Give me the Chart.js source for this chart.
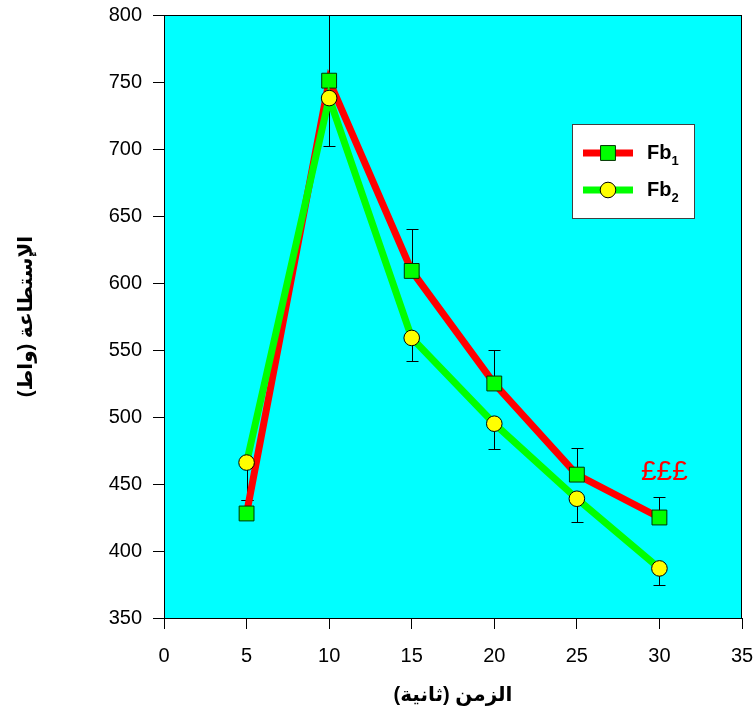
<!DOCTYPE html>
<html>
<head>
<meta charset="utf-8">
<script src="https://cdn.jsdelivr.net/npm/chart.js@4/dist/chart.umd.min.js"></script>
<style>
body{margin:0;background:#fff;}
</style>
</head>
<body>
<canvas id="myChart" width="754" height="718"></canvas>
<script>
// values
var times = [5, 10, 15, 20, 25, 30];
var fb1 = [428, 751, 609, 525, 457, 425];
var fb2 = [466, 738, 559, 495, 439, 387];
var fb1Err = [10, 50, 31, 25, 20, 15];   // drawn upwards
var fb2Err = [28, 36, 17, 19, 17, 12];   // drawn downwards
var xTicks = [0, 5, 10, 15, 20, 25, 30, 35];
var yTicks = [350, 400, 450, 500, 550, 600, 650, 700, 750, 800];
var noteText = '£££';
var notePos = [30.3, 459];
var legendNames = [['Fb', '1'], ['Fb', '2']];

var fontFam = "Arial, 'Liberation Sans', 'DejaVu Sans', sans-serif";

function pts(vals){
	var out = [];
	for(var i=0; i<vals.length; i++){
		out.push({x: times[i], y: vals[i]});
	}
	return out;
}

var bgPlugin = {
	id: 'bg',
	beforeDraw: function(chart){
		var c = chart.ctx, a = chart.chartArea;
		c.save();
		c.fillStyle = '#00ffff';
		c.fillRect(a.left, a.top, a.right - a.left, a.bottom - a.top);
		c.restore();
	},
	beforeDatasetsDraw: function(chart){
		// error bars
		var c = chart.ctx, xs = chart.scales.x, ys = chart.scales.y, a = chart.chartArea;
		c.save();
		c.beginPath();
		c.rect(a.left, a.top, a.right - a.left, a.bottom - a.top);
		c.clip();
		c.strokeStyle = '#000';
		c.lineWidth = 1;
		function bar(x, y0, y1){
			var px = Math.round(xs.getPixelForValue(x)) + 0.5;
			var p0 = ys.getPixelForValue(y0), p1 = Math.round(ys.getPixelForValue(y1)) + 0.5;
			c.beginPath();
			c.moveTo(px, p0); c.lineTo(px, p1);
			c.moveTo(px - 6, p1); c.lineTo(px + 6, p1);
			c.stroke();
		}
		for(var i=0; i<times.length; i++){
			bar(times[i], fb1[i], fb1[i] + fb1Err[i]);
			bar(times[i], fb2[i], fb2[i] - fb2Err[i]);
		}
		c.restore();
	},
	afterDraw: function(chart){
		var c = chart.ctx, a = chart.chartArea, xs = chart.scales.x, ys = chart.scales.y;
		c.save();
		// frame
		c.strokeStyle = '#000';
		c.lineWidth = 1;
		c.strokeRect(a.left + 0.5, a.top + 0.5, a.right - a.left - 1, a.bottom - a.top);
		// note
		c.fillStyle = '#ff0000';
		c.font = '28px ' + fontFam;
		c.textAlign = 'center';
		c.textBaseline = 'middle';
		c.fillText(noteText, xs.getPixelForValue(notePos[0]), ys.getPixelForValue(notePos[1]));
		// legend
		var bx = 572, by = 124, bw = 122, bh = 94;
		c.fillStyle = '#fff';
		c.fillRect(bx, by, bw, bh);
		c.strokeStyle = '#404040';
		c.strokeRect(bx + 0.5, by + 0.5, bw, bh);
		var ds = chart.data.datasets;
		var rows = [153, 190];
		for(var k=0; k<2; k++){
			var d = ds[k], ly = rows[k];
			c.strokeStyle = d.borderColor;
			c.lineWidth = 7;
			c.beginPath();
			c.moveTo(583, ly); c.lineTo(633, ly);
			c.stroke();
			c.fillStyle = d.pointBackgroundColor;
			c.strokeStyle = d.pointBorderColor;
			c.lineWidth = 1;
			c.beginPath();
			if(d.pointStyle === 'rect'){
				var h = d.pointRadius * Math.SQRT1_2;
				c.rect(608 - h, ly - h, 2*h, 2*h);
			} else {
				c.arc(608, ly, d.pointRadius, 0, Math.PI*2);
			}
			c.fill(); c.stroke();
			c.fillStyle = '#000';
			c.textAlign = 'left';
			c.textBaseline = 'alphabetic';
			c.font = 'bold 20px ' + fontFam;
			c.fillText(legendNames[k][0], 647, ly + 6);
			var w = c.measureText(legendNames[k][0]).width;
			c.font = 'bold 13px ' + fontFam;
			c.fillText(legendNames[k][1], 647 + w, ly + 12);
		}
		c.restore();
	}
};

var ctx = document.getElementById('myChart').getContext('2d');
var myChart = new Chart(ctx, {
	type: 'line',
	data: {
		datasets: [
			{
				label: 'Fb1',
				data: pts(fb1),
				borderColor: '#ff0000',
				borderWidth: 7,
				pointStyle: 'rect',
				pointRadius: 10.5,
				pointHoverRadius: 10.5,
				pointBackgroundColor: '#00ff00',
				pointBorderColor: '#003300',
				pointBorderWidth: 1,
				order: 1
			},
			{
				label: 'Fb2',
				data: pts(fb2),
				borderColor: '#00ff00',
				borderWidth: 7,
				pointStyle: 'circle',
				pointRadius: 7.8,
				pointHoverRadius: 7.8,
				pointBackgroundColor: '#ffff00',
				pointBorderColor: '#000',
				pointBorderWidth: 1,
				order: 0
			}
		]
	},
	options: {
		responsive: false,
		animation: false,
		events: [],
		layout: {padding: {left: 0, right: 12, top: 15, bottom: 0}},
		plugins: {legend: {display: false}, tooltip: {enabled: false}},
		scales: {
			x: {
				type: 'linear',
				min: 0, max: 35,
				afterFit: function(s){ s.height = 100; s.paddingLeft = 0; s.paddingRight = 0; },
				afterBuildTicks: function(s){ s.ticks = xTicks.map(function(v){ return {value: v}; }); },
				grid: {display: true, drawOnChartArea: false, tickLength: 11, color: '#000'},
				border: {display: true, color: '#000'},
				ticks: {color: '#000', font: {size: 20, family: fontFam}, padding: 15, maxRotation: 0},
				title: {display: true, text: 'الزمن (ثانية)', color: '#000', font: {size: 20, weight: 'bold', family: fontFam}, padding: {bottom: 11}}
			},
			y: {
				min: 350, max: 800,
				afterFit: function(s){ s.width = 164; s.paddingTop = 0; s.paddingBottom = 0; },
				afterBuildTicks: function(s){ s.ticks = yTicks.map(function(v){ return {value: v}; }); },
				grid: {display: true, drawOnChartArea: false, tickLength: 11, color: '#000'},
				border: {display: true, color: '#000'},
				ticks: {color: '#000', font: {size: 20, family: fontFam}, padding: 11},
				title: {display: true, text: 'الإستطاعة (واط)', color: '#000', font: {size: 20, weight: 'bold', family: fontFam}, padding: {top: 14}}
			}
		}
	},
	plugins: [bgPlugin]
});
</script>
</body>
</html>
